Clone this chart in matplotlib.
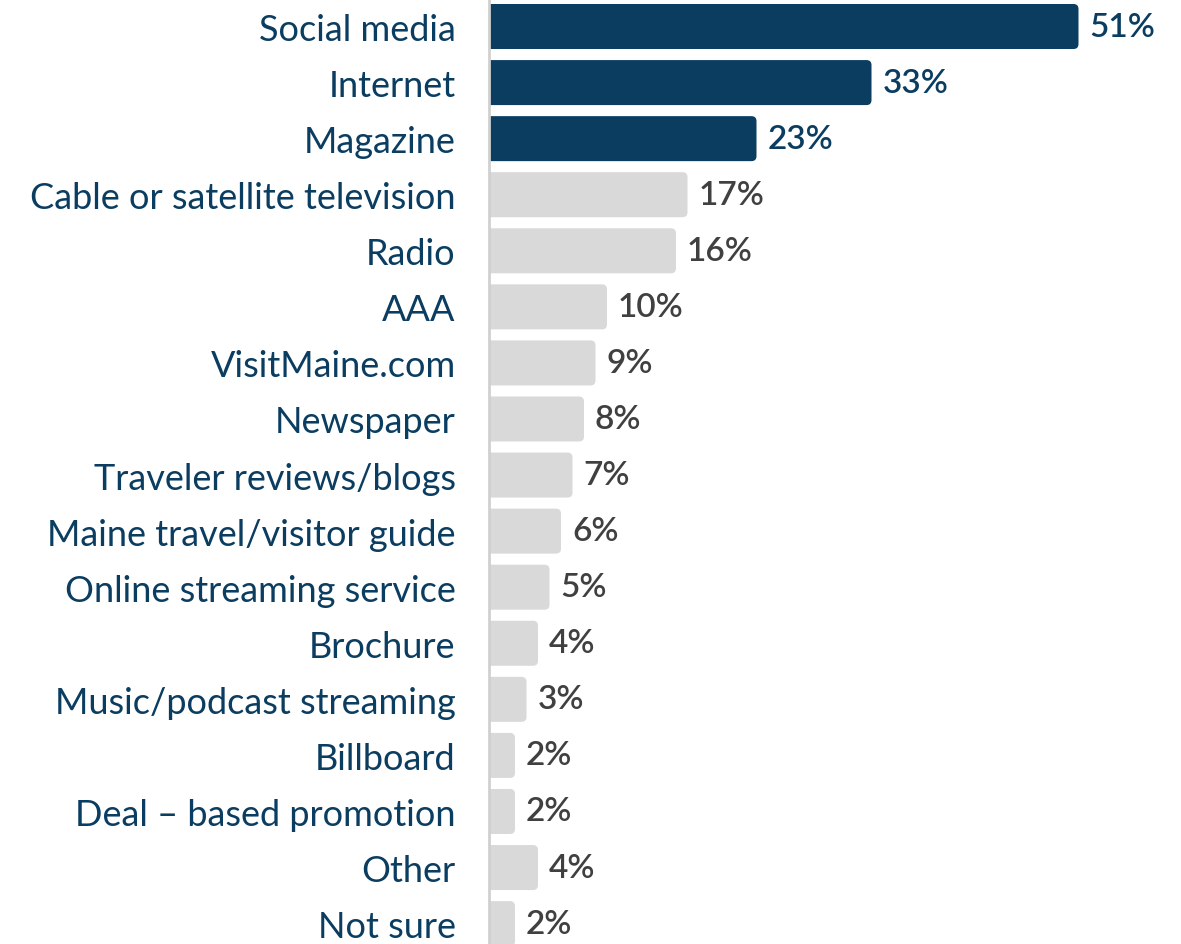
import matplotlib
matplotlib.use("Agg")
import matplotlib.pyplot as plt
from matplotlib.patches import FancyBboxPatch

categories = [
    "Social media", "Internet", "Magazine", "Cable or satellite television",
    "Radio", "AAA", "VisitMaine.com", "Newspaper", "Traveler reviews/blogs",
    "Maine travel/visitor guide", "Online streaming service", "Brochure",
    "Music/podcast streaming", "Billboard", "Deal \u2013 based promotion",
    "Other", "Not sure",
]
values = [51, 33, 23, 17, 16, 10, 9, 8, 7, 6, 5, 4, 3, 2, 2, 4, 2]
highlight_count = 3

NAVY = "#0b3d61"
GREY = "#d9d9d9"
LABEL_GREY = "#404040"

plt.rcParams["font.family"] = ["Lato", "DejaVu Sans"]

W, H = 1181, 945
left_px = 489
px_per_unit = 11.5
fig = plt.figure(figsize=(W / 100, H / 100), dpi=100)
ax = fig.add_axes([left_px / W, 0, 1 - left_px / W, 1])

row_px = 56.07
bar_h = 45 / row_px
x_per_px = 1 / px_per_unit
y_per_px = 1 / row_px
for i, v in enumerate(values):
    color = NAVY if i < highlight_count else GREY
    patch = FancyBboxPatch(
        (-1.0, i - bar_h / 2), v + 1.0, bar_h,
        boxstyle="round,pad=0,rounding_size=%f" % (5 * x_per_px),
        mutation_aspect=y_per_px / x_per_px,
        facecolor=color, edgecolor="none", clip_on=True,
    )
    ax.add_patch(patch)
    ax.text(v + 11 * x_per_px, i, f"{v}%", va="center", ha="left",
            fontsize=24, fontweight="semibold",
            color=NAVY if i < highlight_count else LABEL_GREY)

x0 = -3 * x_per_px
ax.set_xlim(x0, x0 + (W - left_px) * x_per_px)
ax.set_ylim((H - 27.5) / row_px, -27.5 / row_px)
ax.set_yticks(range(len(categories)))
ax.set_yticklabels(categories, fontsize=26, color=NAVY)
ax.tick_params(axis="y", length=0, pad=24)
ax.set_xticks([])
for s in ["top", "right", "bottom"]:
    ax.spines[s].set_visible(False)
ax.spines["left"].set_color("#d0d0d0")
ax.spines["left"].set_linewidth(2)
ax.set_facecolor("none")

fig.savefig("out.png", dpi=100)
